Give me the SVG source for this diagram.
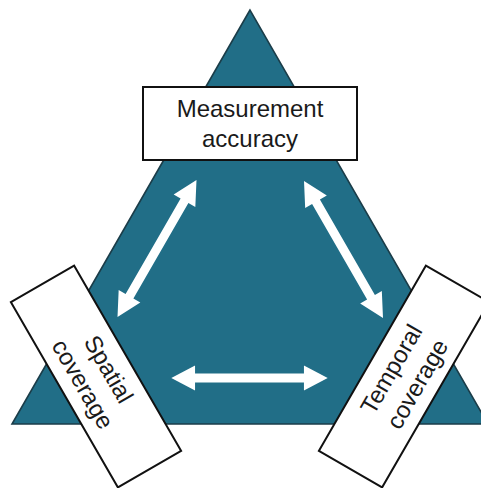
<svg xmlns="http://www.w3.org/2000/svg" xmlns:xlink="http://www.w3.org/1999/xlink" width="481" height="488" viewBox="0 0 481 488">
  <style>
    .tri { fill: #216e87; stroke: #1b3d49; stroke-width: 1.6; }
    .box { fill: #ffffff; stroke: #111111; stroke-width: 2; }
    .lbl { font-family: "Liberation Sans", Arial, sans-serif; font-size: 24px; fill: #1a1a1a; text-anchor: middle; }
    .arrow { fill: #ffffff; }
  </style>
  <defs>
    <!-- double-headed arrow, 158 long, centred on the origin, pointing along x -->
    <path id="dbl" d="M -79 0 L -55 -12.5 L -55 -4.5 L 55 -4.5 L 55 -12.5 L 79 0 L 55 12.5 L 55 4.5 L -55 4.5 L -55 12.5 Z"/>
  </defs>

  <rect width="481" height="488" fill="#ffffff"/>

  <g id="triangle">
    <polygon class="tri" points="250,10 12,424 488,424"/>
  </g>

  <g id="connectors" class="arrow">
    <use xlink:href="#dbl" href="#dbl" transform="translate(157,248.5) rotate(120)"/>
    <use xlink:href="#dbl" href="#dbl" transform="translate(343.5,249.5) rotate(60)"/>
    <use xlink:href="#dbl" href="#dbl" transform="translate(249.5,378) scale(0.99,1)"/>
  </g>

  <g id="measurement-accuracy" transform="translate(250,123.5)">
    <rect class="box" x="-107" y="-36.5" width="214" height="73"/>
    <text class="lbl" x="0" y="-6.5">Measurement</text>
    <text class="lbl" x="0" y="23.5">accuracy</text>
  </g>

  <g id="spatial-coverage" transform="translate(96,376.5) rotate(60)">
    <rect class="box" x="-107" y="-36.5" width="214" height="73"/>
    <text class="lbl" x="0" y="-6.5">Spatial</text>
    <text class="lbl" x="0" y="23.5">coverage</text>
  </g>

  <g id="temporal-coverage" transform="translate(404,376.5) rotate(-60)">
    <rect class="box" x="-107" y="-36.5" width="214" height="73"/>
    <text class="lbl" x="0" y="-6.5">Temporal</text>
    <text class="lbl" x="0" y="23.5">coverage</text>
  </g>
</svg>
